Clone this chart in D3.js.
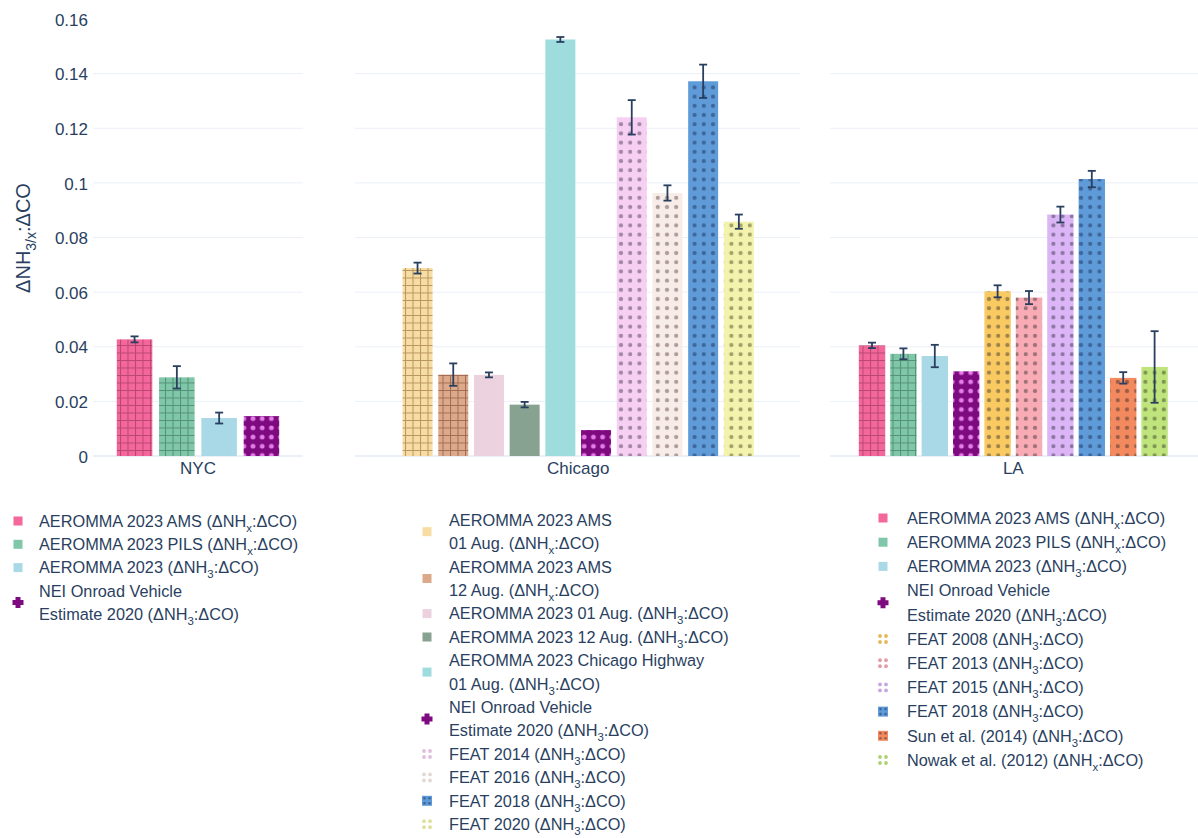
<!DOCTYPE html>
<html>
<head>
<meta charset="utf-8">
<script src="https://cdn.jsdelivr.net/npm/d3@7"></script>
<style>
  body { margin: 0; background: #fff; }
  svg { display: block; font-family: "Liberation Sans", Arial, Helvetica, sans-serif; }
</style>
</head>
<body>
<svg id="chart" width="1198" height="838"></svg>
<script>
// ---- data -------------------------------------------------------------
const yTicks = [0, 0.02, 0.04, 0.06, 0.08, 0.1, 0.12, 0.14, 0.16];
const yTickLabels = ["0", "0.02", "0.04", "0.06", "0.08", "0.1", "0.12", "0.14", "0.16"];
const cities = ["NYC", "Chicago", "LA"];

// NYC
const nycKeys   = ["ams", "pils", "nh3", "nei"];
const nycLabels = [
  "AEROMMA 2023 AMS (ΔNH_x:ΔCO)",
  "AEROMMA 2023 PILS (ΔNH_x:ΔCO)",
  "AEROMMA 2023 (ΔNH_3:ΔCO)",
  "NEI Onroad Vehicle\nEstimate 2020 (ΔNH_3:ΔCO)"
];
const nycValues = [0.0427, 0.0288, 0.0139, 0.0146];
const nycErrors = [0.0011, 0.0041, 0.0020, null];

// Chicago
const chiKeys   = ["ams01", "ams12", "a01", "a12", "hwy", "nei", "f14", "f16", "f18", "f20"];
const chiLabels = [
  "AEROMMA 2023 AMS\n01 Aug. (ΔNH_x:ΔCO)",
  "AEROMMA 2023 AMS\n12 Aug. (ΔNH_x:ΔCO)",
  "AEROMMA 2023 01 Aug. (ΔNH_3:ΔCO)",
  "AEROMMA 2023 12 Aug. (ΔNH_3:ΔCO)",
  "AEROMMA 2023 Chicago Highway\n01 Aug. (ΔNH_3:ΔCO)",
  "NEI Onroad Vehicle\nEstimate 2020 (ΔNH_3:ΔCO)",
  "FEAT 2014 (ΔNH_3:ΔCO)",
  "FEAT 2016 (ΔNH_3:ΔCO)",
  "FEAT 2018 (ΔNH_3:ΔCO)",
  "FEAT 2020 (ΔNH_3:ΔCO)"
];
const chiValues = [0.0688, 0.0298, 0.0297, 0.0188, 0.1525, 0.0095, 0.1240, 0.0963, 0.1372, 0.0858];
const chiErrors = [0.0020, 0.0041, 0.0009, 0.0010, 0.0009, null, 0.0063, 0.0028, 0.0061, 0.0026];

// LA
const laKeys   = ["ams", "pils", "nh3", "nei", "f08", "f13", "f15", "f18", "sun", "nowak"];
const laLabels = [
  "AEROMMA 2023 AMS (ΔNH_x:ΔCO)",
  "AEROMMA 2023 PILS (ΔNH_x:ΔCO)",
  "AEROMMA 2023 (ΔNH_3:ΔCO)",
  "NEI Onroad Vehicle\nEstimate 2020 (ΔNH_3:ΔCO)",
  "FEAT 2008 (ΔNH_3:ΔCO)",
  "FEAT 2013 (ΔNH_3:ΔCO)",
  "FEAT 2015 (ΔNH_3:ΔCO)",
  "FEAT 2018 (ΔNH_3:ΔCO)",
  "Sun et al. (2014) (ΔNH_3:ΔCO)",
  "Nowak et al. (2012) (ΔNH_x:ΔCO)"
];
const laValues = [0.0405, 0.0374, 0.0366, 0.0310, 0.0603, 0.0580, 0.0884, 0.1014, 0.0286, 0.0326];
const laErrors = [0.0010, 0.0020, 0.0041, null, 0.0022, 0.0024, 0.0029, 0.0030, 0.0021, 0.0131];

// ---- styles -----------------------------------------------------------
// fill: bar colour, pat: fill pattern, fg: pattern ink, icon: legend glyph
const styles = {
  ams:   { fill: "#f4679a", pat: "grid", fg: "rgba(110,30,70,0.45)", icon: "square" },
  pils:  { fill: "#80c6a8", pat: "grid", fg: "rgba(30,80,60,0.45)",  icon: "square" },
  nh3:   { fill: "#a9d8e7", pat: "solid", icon: "square" },
  nei:   { fill: "#7e0a80", pat: "dots", fg: "#e27de6", icon: "plus" },
  ams01: { fill: "#f7dca3", pat: "grid", fg: "rgba(120,80,30,0.5)", icon: "square" },
  ams12: { fill: "#dca98b", pat: "grid", fg: "rgba(100,50,30,0.5)", icon: "square" },
  a01:   { fill: "#ecd1de", pat: "solid", icon: "square" },
  a12:   { fill: "#87a290", pat: "solid", icon: "square" },
  hwy:   { fill: "#9edcdd", pat: "solid", icon: "square" },
  f14:   { fill: "#f6cff3", pat: "dots", fg: "rgba(80,60,85,0.5)",  icon: "dots" },
  f16:   { fill: "#f8ece8", pat: "dots", fg: "rgba(80,60,60,0.45)", icon: "dots" },
  f18:   { fill: "#5f9bd8", pat: "dots", fg: "rgba(30,50,90,0.5)",  icon: "dotsq" },
  f20:   { fill: "#f3f3ad", pat: "dots", fg: "rgba(80,80,40,0.5)",  icon: "dots" },
  f08:   { fill: "#f9c962", pat: "dots", fg: "rgba(70,60,50,0.5)",  icon: "dots" },
  f13:   { fill: "#f8abb5", pat: "dots", fg: "rgba(70,55,60,0.5)",  icon: "dots" },
  f15:   { fill: "#dbb5f5", pat: "dots", fg: "rgba(60,55,80,0.5)",  icon: "dots" },
  sun:   { fill: "#f3895f", pat: "dots", fg: "rgba(70,50,45,0.5)",  icon: "dotsq" },
  nowak: { fill: "#bfe47b", pat: "dots", fg: "rgba(60,70,45,0.5)",  icon: "dots" }
};

// ---- layout -----------------------------------------------------------
const textColor = "#2a3f5f";
const gridColor = "#ebf0f8";
const panels = [
  { city: cities[0], keys: nycKeys, labels: nycLabels, values: nycValues, errors: nycErrors,
    domain: [93, 303], group: [113.4, 282.6],
    legendX: 18, legendTextX: 39, legendY: 521, legendLine: 23.3 },
  { city: cities[1], keys: chiKeys, labels: chiLabels, values: chiValues, errors: chiErrors,
    domain: [355, 800], group: [399.7, 756.7],
    legendX: 427, legendTextX: 449, legendY: 520, legendLine: 23.4 },
  { city: cities[2], keys: laKeys, labels: laLabels, values: laValues, errors: laErrors,
    domain: [830, 1198], group: [856.3, 1170.3],
    legendX: 883, legendTextX: 907, legendY: 518, legendLine: 24.2 }
];

const svg = d3.select("#chart");
const defs = svg.append("defs");
const y = d3.scaleLinear().domain([0, 0.16]).range([456, 19]);

// fill patterns
Object.entries(styles).forEach(([k, s]) => {
  if (s.pat === "grid") {
    const size = 7.5;
    const p = defs.append("pattern").attr("id", "pat-" + k)
      .attr("patternUnits", "userSpaceOnUse").attr("width", size).attr("height", size);
    p.append("rect").attr("width", size).attr("height", size).attr("fill", s.fill);
    p.append("path").attr("d", `M0,0.5H${size}M0.5,0V${size}`)
      .attr("stroke", s.fg).attr("stroke-width", 1).attr("fill", "none");
  } else if (s.pat === "dots") {
    const size = 9.2;
    const p = defs.append("pattern").attr("id", "pat-" + k)
      .attr("patternUnits", "userSpaceOnUse").attr("width", size).attr("height", size);
    p.append("rect").attr("width", size).attr("height", size).attr("fill", s.fill);
    p.append("circle").attr("cx", size / 2).attr("cy", size / 2)
      .attr("r", k === "nei" ? 2.4 : 2.1).attr("fill", s.fg);
  }
});
const fillOf = k => styles[k].pat === "solid" ? styles[k].fill : `url(#pat-${k})`;

// writes "ΔNH_x" style strings with the run after "_" set as a subscript
function richText(sel, str, fontSize) {
  const parts = str.split(/_([^:)\s]+)/);
  parts.forEach((part, i) => {
    if (!part) return;
    if (i % 2 === 1) {
      sel.append("tspan").attr("font-size", fontSize * 0.7).attr("dy", fontSize * 0.3).text(part);
    } else {
      const t = sel.append("tspan").text(part);
      if (i > 0) t.attr("dy", -fontSize * 0.3);
    }
  });
}

// y axis
const yAxis = d3.axisLeft(y).tickValues(yTicks).tickFormat((d, i) => yTickLabels[i]).tickSize(0).tickPadding(0);
const yg = svg.append("g").attr("transform", "translate(88,0)").call(yAxis);
yg.select(".domain").remove();
yg.selectAll("text").attr("fill", textColor).attr("font-size", 17)
  .attr("font-family", "Liberation Sans, Arial, sans-serif").attr("dy", "0.36em");

const yTitle = svg.append("text")
  .attr("transform", "translate(30,238) rotate(-90)")
  .attr("text-anchor", "middle").attr("fill", textColor).attr("font-size", 20);
richText(yTitle, "ΔNH_3/x:ΔCO", 20);

// panels
panels.forEach(P => {
  const g = svg.append("g");

  // gridlines
  g.selectAll("line.grid").data(yTicks.filter(t => t <= 0.14)).join("line")
    .attr("x1", P.domain[0]).attr("x2", P.domain[1])
    .attr("y1", d => y(d)).attr("y2", d => y(d))
    .attr("stroke", gridColor).attr("stroke-width", d => d === 0 ? 2 : 1);

  const x = d3.scaleBand().domain(P.keys).range(P.group).paddingInner(0.16).paddingOuter(0.08);
  const rows = P.keys.map((k, i) => ({ k, v: P.values[i], e: P.errors[i] }));

  g.selectAll("rect.bar").data(rows).join("rect")
    .attr("x", d => x(d.k)).attr("width", x.bandwidth())
    .attr("y", d => y(d.v)).attr("height", d => y(0) - y(d.v))
    .attr("fill", d => fillOf(d.k));

  // error bars
  const eb = g.selectAll("g.err").data(rows.filter(d => d.e != null)).join("g")
    .attr("stroke", textColor).attr("stroke-width", 1.8);
  const cx = d => x(d.k) + x.bandwidth() / 2;
  eb.append("line").attr("x1", cx).attr("x2", cx)
    .attr("y1", d => y(d.v + d.e)).attr("y2", d => y(d.v - d.e));
  eb.append("line").attr("x1", d => cx(d) - 4).attr("x2", d => cx(d) + 4)
    .attr("y1", d => y(d.v + d.e)).attr("y2", d => y(d.v + d.e));
  eb.append("line").attr("x1", d => cx(d) - 4).attr("x2", d => cx(d) + 4)
    .attr("y1", d => y(d.v - d.e)).attr("y2", d => y(d.v - d.e));

  // category label
  g.append("text").attr("x", (P.group[0] + P.group[1]) / 2).attr("y", 474)
    .attr("text-anchor", "middle").attr("fill", textColor).attr("font-size", 17).text(P.city);

  // legend
  const lineH = P.legendLine, fs = 16.3;
  let cy = P.legendY;
  P.keys.forEach((k, i) => {
    const lines = P.labels[i].split("\n");
    const mid = cy + (lines.length - 1) * lineH / 2;
    const s = styles[k];
    const ix = P.legendX;
    if (s.icon === "square") {
      g.append("rect").attr("x", ix - 4.5).attr("y", mid - 4.5).attr("width", 9).attr("height", 9)
        .attr("fill", s.fill);
    } else if (s.icon === "plus") {
      g.append("path").attr("fill", s.fill)
        .attr("d", `M${ix - 2.5},${mid - 5.5}h5v3h3v5h-3v3h-5v-3h-3v-5h3z`);
    } else if (s.icon === "dots") {
      [[-3, -3], [3, -3], [-3, 3], [3, 3]].forEach(([dx, dy]) =>
        g.append("circle").attr("cx", ix + dx).attr("cy", mid + dy).attr("r", 1.9).attr("fill", d3.color(s.fill).darker(0.25)));
    } else if (s.icon === "dotsq") {
      g.append("rect").attr("x", ix - 5).attr("y", mid - 5).attr("width", 10).attr("height", 10).attr("fill", s.fill);
      [[-2.5, -2.5], [2.5, -2.5], [-2.5, 2.5], [2.5, 2.5]].forEach(([dx, dy]) =>
        g.append("circle").attr("cx", ix + dx).attr("cy", mid + dy).attr("r", 1.3).attr("fill", s.fg));
    }
    lines.forEach((ln, j) => {
      const t = g.append("text").attr("x", P.legendTextX).attr("y", cy + j * lineH)
        .attr("dy", "0.36em").attr("fill", textColor).attr("font-size", fs);
      richText(t, ln, fs);
    });
    cy += lines.length * lineH;
  });
});
</script>
</body>
</html>
